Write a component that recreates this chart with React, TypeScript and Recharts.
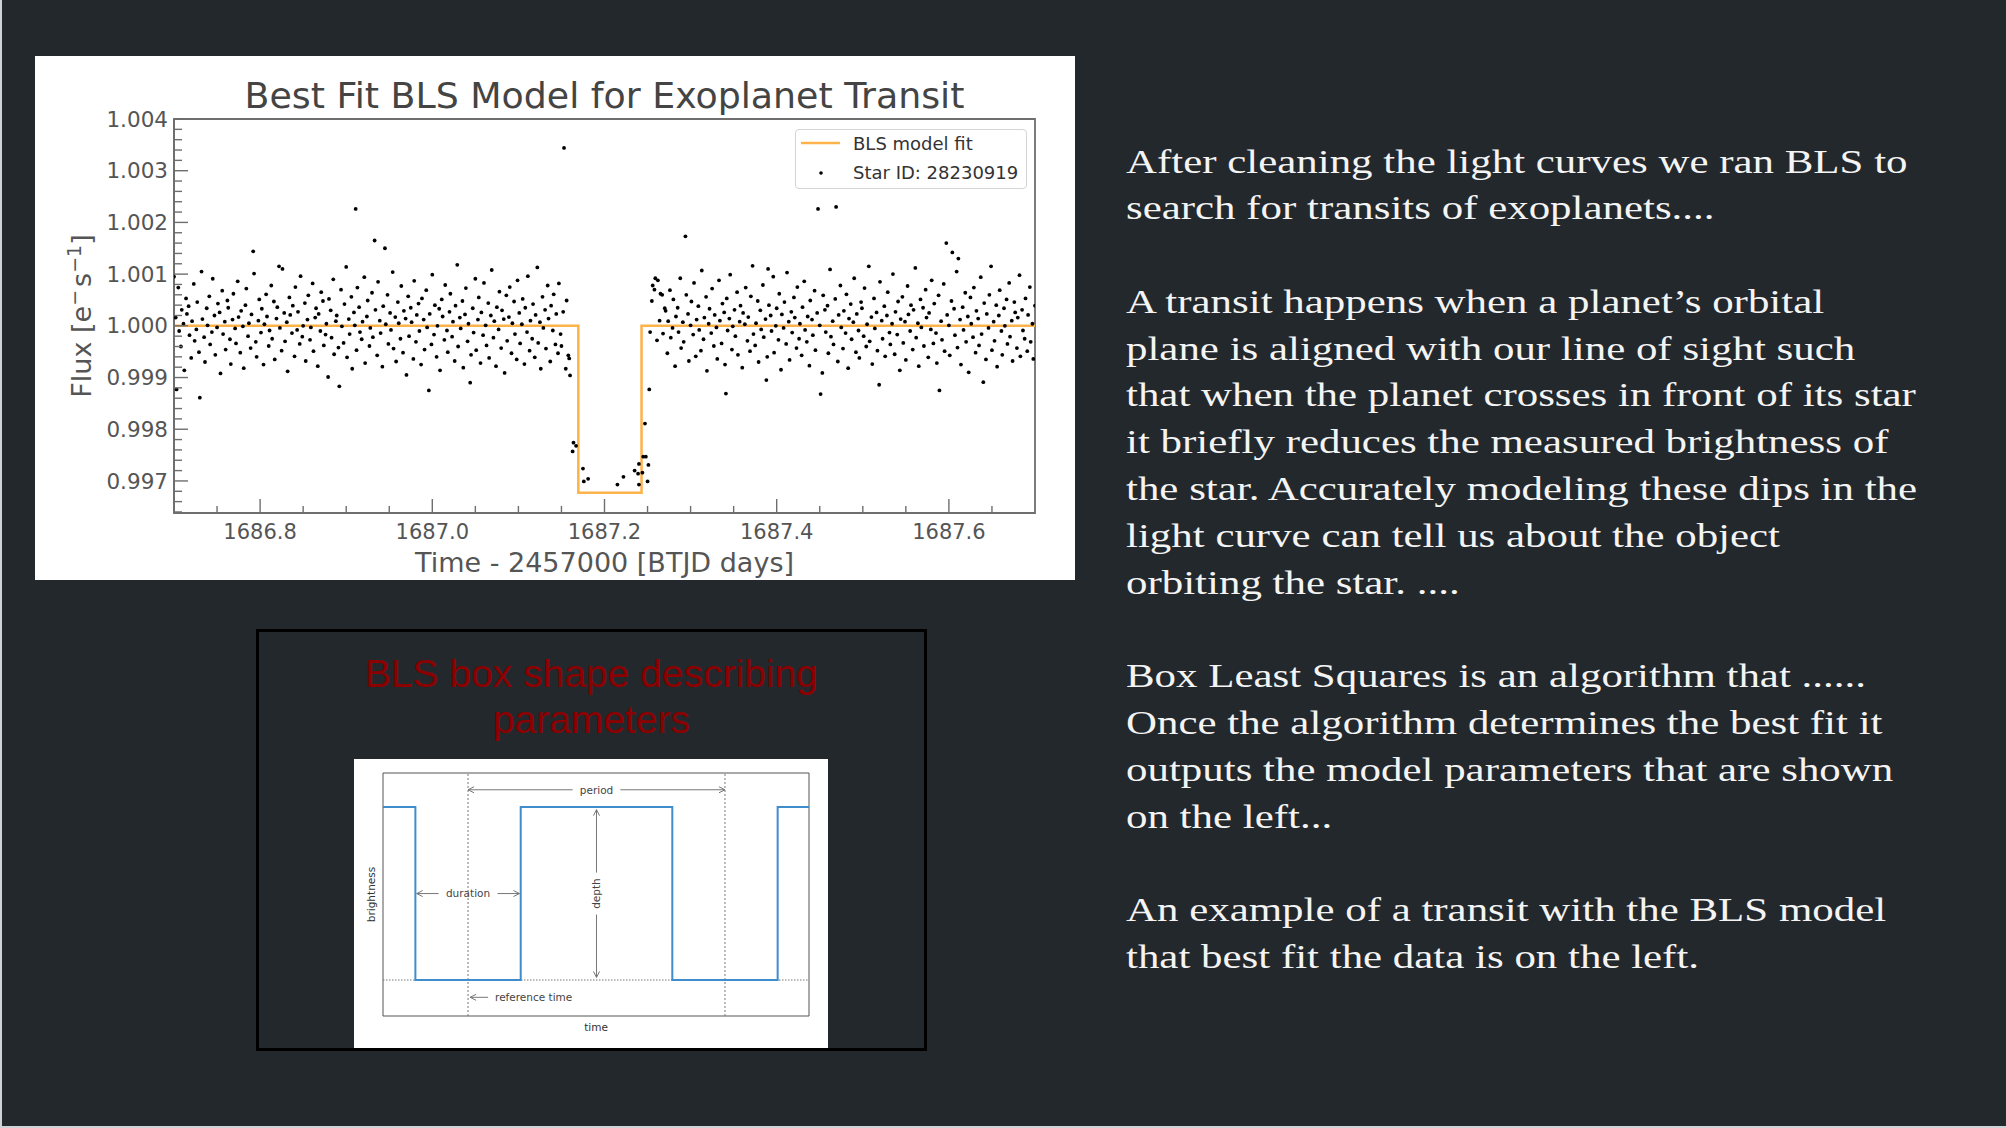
import React from "react"
import {
    ComposedChart,
    LineChart,
    Line,
    Scatter,
    XAxis,
    YAxis,
    ReferenceArea,
    ReferenceLine,
    Legend,
    Label,
} from "recharts"

// light curve, t = thousandths of a day after 1686.7, f = flux offset from 1 in units of 1e-5
const T0 = 1686.7

const PRE_TRANSIT = [
    [0, 95], [2, 16], [3, -123], [5, 74], [6, -10], [8, -40], [9, 31], [11, 4], [12, -86], [14, 53], [15, 23], [17, 38], [18, -18], [20, -62],
    [21, 9], [23, 81], [24, -29], [26, -7], [27, 46], [29, -51], [30, -139], [32, 105], [33, 13], [35, -22], [36, -70], [38, 34], [39, 1],
    [41, 57], [42, -36], [44, -12], [45, 91], [47, 20], [48, -56], [50, -3], [51, 43], [53, 26], [54, -92], [56, 68], [57, -16], [59, 8],
    [60, -46], [62, 49], [63, 35], [65, -26], [66, -74], [68, 12], [69, 62], [71, -5], [72, -34], [74, 86], [75, 17], [77, -52], [78, 29],
    [80, -1], [81, -82], [83, 40], [84, 72], [86, -20], [87, 5], [89, -43], [90, 22], [92, 144], [93, 101], [95, -31], [96, -60], [98, 10],
    [99, 51], [101, -13], [102, 33], [104, -75], [105, 3], [107, 61], [108, 18], [110, -39], [111, -9], [113, 78], [114, -25], [116, 47],
    [117, -65], [119, 14], [120, 36], [122, 115], [123, -4], [125, -48], [126, 110], [128, 25], [129, -30], [131, 7], [132, -88], [134, 55],
    [135, 21], [137, -14], [138, 39], [140, -59], [141, 75], [143, -8], [144, 27], [146, -35], [147, 96], [149, -21], [150, 0], [152, 44],
    [153, -68], [155, 12], [156, 59], [158, -27], [159, -3], [161, 82], [162, -49], [164, 16], [165, 34], [167, -78], [168, 23], [170, -10],
    [171, 65], [173, 48], [174, -38], [176, -17], [177, 4], [179, -99], [180, 52], [182, 30], [183, -23], [185, 90], [186, -55], [188, 9],
    [189, 20], [191, -42], [192, -117], [194, 70], [195, -1], [197, -33], [198, 42], [200, 114], [201, -61], [203, 13], [204, -16], [206, 56],
    [207, -83], [209, 26], [210, 1], [211, 226], [212, -47], [213, 74], [215, 36], [216, -12], [218, -26], [219, 8], [221, 94], [222, -72],
    [224, 18], [225, 49], [227, -39], [228, -4], [230, 64], [231, -22], [233, 165], [234, 31], [236, -57], [237, 85], [239, 10], [240, -14],
    [242, -79], [243, 38], [245, 150], [246, 3], [248, 60], [249, -35], [251, 25], [252, -8], [254, 104], [255, -44], [257, 17], [258, -69],
    [260, 46], [261, 5], [263, -25], [264, 77], [266, -52], [267, 29], [269, 14], [270, -95], [272, 57], [273, -20], [275, 35], [276, 7],
    [278, -64], [279, 87], [281, -31], [282, 21], [284, 43], [285, -10], [287, -75], [288, 53], [290, 12], [291, -46], [293, 69], [294, -3],
    [296, -125], [297, 23], [299, -36], [300, 99], [302, -17], [303, 40], [305, -60], [306, 0], [308, 33], [309, -86], [311, 51], [312, 18],
    [314, -27], [315, 79], [317, -9], [318, -51], [320, 27], [321, 62], [323, -21], [324, 8], [326, -68], [327, 39], [329, 118], [330, -40],
    [332, 16], [333, -5], [335, 48], [336, -81], [338, 22], [339, 73], [341, -30], [342, 4], [344, -110], [345, -56], [347, 34], [348, -13],
    [350, 91], [351, -47], [353, 12], [354, 55], [356, -72], [357, 26], [359, -18], [360, 83], [362, 1], [363, -38], [365, 44], [366, -62],
    [368, 20], [369, 108], [371, -23], [372, 9], [374, -78], [375, 36], [377, -7], [378, 66], [380, -43], [381, 30], [383, 13], [384, -91],
    [386, 59], [387, -29], [389, 17], [390, 75], [392, -53], [393, 5], [395, 47], [396, -16], [398, -65], [399, 88], [401, 25], [402, -34],
    [404, 3], [405, 52], [407, -74], [408, 35], [410, -12], [411, 96], [413, -48], [414, 10], [416, -25], [417, 42], [419, -61], [420, 21],
    [422, 113], [423, -33], [425, 7], [426, -83], [428, 56], [429, -4], [431, 31], [432, -44], [434, 78], [435, 14], [437, -69], [438, 39],
    [440, -9], [441, 61], [443, -36], [444, 23], [446, -53], [447, 82], [449, -16], [450, -39], [452, 27], [453, 344], [455, -83], [456, 49],
    [458, -57], [459, -63], [460, -96],
]

const IN_TRANSIT = [
    [463, -243], [464, -226], [467, -232], [475, -276], [476, -301], [481, -296], [515, -307], [522, -292], [535, -280], [539, -286],
    [540, -267], [540, -307], [544, -284], [545, -253], [547, -189], [548, -253], [550, -301], [551, -269], [552, -123],
]

const POST_TRANSIT = [
    [553, -12], [555, 48], [556, 78], [558, 70], [559, 92], [561, -28], [562, 88], [564, 10], [565, 62], [567, 60], [568, -15], [570, 34],
    [571, 29], [573, -53], [574, 9], [576, 69], [577, -23], [579, -4], [580, 51], [582, -78], [583, 18], [585, 35], [586, -12], [588, 92],
    [589, -43], [591, 7], [592, -31], [594, 173], [595, 60], [597, 23], [598, -68], [600, 1], [601, 47], [603, -17], [604, 83], [606, -59],
    [607, 12], [609, 38], [610, -8], [612, -48], [613, 107], [615, -26], [616, 16], [618, 56], [619, -87], [621, 4], [622, 33], [624, -14],
    [625, 72], [627, -39], [628, 21], [630, -3], [631, -64], [633, 88], [634, 10], [636, -34], [637, 43], [639, 26], [640, -75], [641, -131],
    [642, 53], [643, -9], [645, 14], [646, 99], [648, -46], [649, -1], [651, 31], [652, -20], [654, 65], [655, -56], [657, 8], [658, 39],
    [660, -81], [661, 25], [663, 3], [664, 74], [666, -29], [667, 17], [669, -49], [670, 57], [672, 116], [673, -16], [675, -38], [676, 5],
    [678, 48], [679, -70], [681, 30], [682, -7], [684, 79], [685, -22], [687, 13], [688, -105], [689, -60], [690, 110], [691, 40], [693, 20],
    [694, -10], [696, 95], [697, -52], [699, 0], [700, 34], [702, -27], [703, 62], [705, -85], [706, 22], [708, -4], [709, 46], [711, -35],
    [712, 103], [714, 8], [715, -66], [717, 27], [718, -13], [720, 55], [721, 16], [723, -43], [724, 75], [726, -25], [727, 4], [729, -57],
    [730, 36], [732, 86], [733, -8], [735, -31], [736, 18], [738, -77], [739, 49], [741, 12], [742, -18], [744, 68], [745, -47], [747, 25],
    [748, 226], [750, 1], [751, -132], [753, -91], [754, 59], [756, 31], [757, -12], [759, 39], [760, -53], [762, 109], [763, -21], [765, 9],
    [766, -36], [768, 52], [769, 230], [771, -69], [772, 21], [774, 78], [775, -3], [777, -44], [778, 29], [780, -14], [781, 61], [783, -82],
    [784, 14], [786, 42], [787, -26], [789, 7], [790, 92], [792, -51], [793, 23], [795, -9], [796, -62], [798, 46], [799, 34], [801, -20],
    [802, 73], [804, -40], [805, 3], [807, 115], [808, -30], [810, 17], [811, -74], [813, 53], [814, -5], [816, 26], [817, -48], [819, -114],
    [820, 85], [822, 10], [823, -25], [825, 38], [826, -59], [828, 20], [829, 65], [831, -13], [832, -36], [834, 4], [835, 100], [837, -55],
    [838, 27], [840, -17], [841, 47], [843, -86], [844, 13], [846, 56], [847, -33], [849, 8], [850, -66], [852, 77], [853, 22], [855, -10],
    [856, 40], [858, -46], [859, 31], [861, 112], [862, -23], [864, 5], [865, -78], [867, 51], [868, -3], [870, 35], [871, -39], [873, 70],
    [874, 16], [876, -61], [877, 25], [879, -7], [880, 88], [882, -34], [883, 43], [885, -14], [886, -72], [888, 59], [889, -125], [891, 9],
    [892, -27], [894, 81], [895, -49], [897, 160], [898, 21], [900, 1], [901, -57], [903, 48], [904, 142], [906, 33], [907, -18], [909, 105],
    [910, -42], [911, 130], [913, 12], [914, -75], [916, 36], [917, -8], [919, 64], [920, -31], [922, 18], [923, -90], [925, 55], [926, 4],
    [928, -22], [929, 74], [931, -52], [932, 29], [934, 14], [935, -38], [937, 94], [938, -16], [940, -109], [941, 44], [943, -65], [944, 23],
    [946, -4], [947, 60], [949, 115], [950, -47], [952, 8], [953, -29], [955, 40], [956, -79], [958, 20], [959, 69], [961, -10], [962, -56],
    [964, 34], [965, 0], [967, 51], [968, -35], [970, 83], [971, -21], [973, 10], [974, -68], [976, 46], [977, 26], [979, -43], [980, 16],
    [982, 98], [983, -59], [985, 31], [986, -9], [988, -25], [989, 53], [991, -49], [992, 21], [994, 75], [995, -31], [997, 4], [998, -64],
    [1000, 39],
]

// BLS box model
const MODEL_TIME = [1686.7, 1687.1696, 1687.1696, 1687.243, 1687.243, 1687.7]
const MODEL_FLUX = [1.0, 1.0, 0.99677, 0.99677, 1.0, 1.0]

const X_MAJOR = [1686.8, 1687.0, 1687.2, 1687.4, 1687.6]
const Y_MAJOR = [0.997, 0.998, 0.999, 1.0, 1.001, 1.002, 1.003, 1.004]
const LEGEND_LABELS = ["BLS model fit", "Star ID: 28230919"]

// parameter diagram (time in periods, brightness normalised)
const BOX_TIME = [-0.331, -0.205, -0.205, 0.205, 0.205, 0.795, 0.795, 1.205, 1.205, 1.327]
const BOX_LEVEL = [1, 1, 0, 0, 1, 1, 0, 0, 1, 1]

const TEXT_PARAGRAPHS = [
    ["After cleaning the light curves we ran BLS to", "search for transits of exoplanets...."],
    [
        "A transit happens when a planet\u2019s orbital",
        "plane is aligned with our line of sight such",
        "that when the planet crosses in front of its star",
        "it briefly reduces the measured brightness of",
        "the star. Accurately modeling these dips in the",
        "light curve can tell us about the object",
        "orbiting the star. ....",
    ],
    [
        "Box Least Squares is an algorithm that ......",
        "Once the algorithm determines the best fit it",
        "outputs the model parameters that are shown",
        "on the left...",
    ],
    ["An example of a transit with the BLS model", "that best fit the data is on the left."],
]

const BG = "#23282d"
const ORANGE = "#fdb24a"
const SPINE = "#6e6e6e"
const TICK_TEXT = "#555"
const MPL_FONT = "DejaVu Sans"

const X_DOMAIN: [number, number] = [1686.7, 1687.7]
const Y_DOMAIN: [number, number] = [0.99638, 1.004]

// panel layout
const PANEL_W = 1040
const PANEL_H = 524
const PLOT_LEFT = 139
const PLOT_BOTTOM = 457

const toPoint = ([dt, df]: number[]) => ({ t: T0 + dt / 1000, flux: 1 + df / 1e5 })
const fluxPoints = [...PRE_TRANSIT, ...IN_TRANSIT, ...POST_TRANSIT].map(toPoint)
const modelData = MODEL_TIME.map((t, i) => ({ t, flux: MODEL_FLUX[i] }))
const boxData = BOX_TIME.map((t, i) => ({ t, b: BOX_LEVEL[i] }))

// minor ticks: every 0.05 d and every 0.0002
const xTicks: number[] = []
for (let k = 1; k < 20; k++) xTicks.push(Math.round((1686.7 + k * 0.05) * 100) / 100)
const yTicks: number[] = []
for (let k = 0; k <= 38; k++) yTicks.push(Math.round((0.9964 + k * 0.0002) * 1e5) / 1e5)

const isMajor = (v: number, list: number[]) => list.some((m) => Math.abs(m - v) < 1e-7)

function XTick(props: any) {
    const { x, payload } = props
    const major = isMajor(payload.value, X_MAJOR)
    return (
        <g>
            <line x1={x} x2={x} y1={PLOT_BOTTOM} y2={PLOT_BOTTOM - (major ? 14 : 7)} stroke={SPINE} strokeWidth={1.4} />
            {major && (
                <text x={x} y={PLOT_BOTTOM + 26} textAnchor="middle" fontSize={21} fontFamily={MPL_FONT} fill={TICK_TEXT}>
                    {payload.value.toFixed(1)}
                </text>
            )}
        </g>
    )
}

function YTick(props: any) {
    const { y, payload } = props
    const major = isMajor(payload.value, Y_MAJOR)
    return (
        <g>
            <line x1={PLOT_LEFT} x2={PLOT_LEFT + (major ? 14 : 8)} y1={y} y2={y} stroke={SPINE} strokeWidth={1.4} />
            {major && (
                <text x={PLOT_LEFT - 6} y={y + 7.6} textAnchor="end" fontSize={21.5} fontFamily={MPL_FONT} fill={TICK_TEXT}>
                    {payload.value.toFixed(3)}
                </text>
            )}
        </g>
    )
}

const renderLegend = () => (
    <div
        style={{
            width: 232,
            height: 60,
            boxSizing: "border-box",
            border: "1.5px solid #d4d4d4",
            borderRadius: 4,
            background: "#fff",
            position: "relative",
        }}
    >
        <svg width={232} height={60} style={{ position: "absolute", left: -1.5, top: -1.5 }}>
            <line x1={6} x2={45} y1={14} y2={14} stroke={ORANGE} strokeWidth={2.5} />
            <circle cx={26} cy={44} r={1.8} fill="#000" />
            <text x={58} y={21} fontSize={18} fontFamily={MPL_FONT} fill="#333">
                {LEGEND_LABELS[0]}
            </text>
            <text x={58} y={50} fontSize={18} fontFamily={MPL_FONT} fill="#333">
                {LEGEND_LABELS[1]}
            </text>
        </svg>
    </div>
)

function TransitChart() {
    return (
        <ComposedChart width={PANEL_W} height={PANEL_H} margin={{ top: 63, right: 40, bottom: 0, left: 0 }}>
            <XAxis
                dataKey="t"
                type="number"
                domain={X_DOMAIN}
                allowDataOverflow
                ticks={xTicks}
                interval={0}
                tick={XTick}
                tickLine={false}
                axisLine={{ stroke: SPINE, strokeWidth: 1.8 }}
                height={67}
                label={
                    <Label
                        content={({ viewBox }: any) => (
                            <text
                                x={viewBox.x + viewBox.width / 2}
                                y={viewBox.y + 59}
                                textAnchor="middle"
                                fontSize={27}
                                fontFamily={MPL_FONT}
                                fill="#555"
                            >
                                Time - 2457000 [BTJD days]
                            </text>
                        )}
                    />
                }
            />
            <YAxis
                dataKey="flux"
                type="number"
                domain={Y_DOMAIN}
                allowDataOverflow
                ticks={yTicks}
                interval={0}
                tick={YTick}
                tickLine={false}
                axisLine={{ stroke: SPINE, strokeWidth: 1.8 }}
                width={PLOT_LEFT}
                label={
                    <Label
                        content={({ viewBox }: any) => {
                            const cx = 56
                            const cy = viewBox.y + viewBox.height / 2
                            return (
                                <text
                                    x={cx}
                                    y={cy}
                                    transform={`rotate(-90, ${cx}, ${cy})`}
                                    textAnchor="middle"
                                    fontSize={27}
                                    fontFamily={MPL_FONT}
                                    fill="#555"
                                >
                                    Flux [e
                                    <tspan dy={-10} fontSize={19}>
                                        {"\u2212"}
                                    </tspan>
                                    <tspan dy={10} dx={3}>
                                        s
                                    </tspan>
                                    <tspan dy={-10} fontSize={19}>
                                        {"\u22121"}
                                    </tspan>
                                    <tspan dy={10}>]</tspan>
                                </text>
                            )
                        }}
                    />
                }
            />
            <ReferenceArea
                x1={X_DOMAIN[0]}
                x2={X_DOMAIN[1]}
                y1={Y_DOMAIN[0]}
                y2={Y_DOMAIN[1]}
                fill="none"
                stroke={SPINE}
                strokeWidth={1.8}
                ifOverflow="visible"
            />
            <Line
                data={modelData}
                dataKey="flux"
                name={LEGEND_LABELS[0]}
                type="linear"
                stroke={ORANGE}
                strokeWidth={2.5}
                dot={false}
                isAnimationActive={false}
            />
            <Scatter
                data={fluxPoints}
                name={LEGEND_LABELS[1]}
                fill="#000"
                isAnimationActive={false}
                shape={(p: any) => <circle cx={p.cx} cy={p.cy} r={1.9} fill="#000" />}
            />
            <Legend
                layout="vertical"
                align="center"
                verticalAlign="middle"
                content={renderLegend}
                wrapperStyle={{ left: 760, top: 73, width: 232, height: 60 }}
            />
        </ComposedChart>
    )
}

// annotation arrow drawn over a ReferenceLine segment
const head = (x: number, y: number, ux: number, uy: number) => {
    const bx = x - ux * 6
    const by = y - uy * 6
    const px = -uy * 3
    const py = ux * 3
    return `M${bx + px},${by + py} L${x},${y} L${bx - px},${by - py}`
}

function annotation(text: string, mode: "middle" | "after") {
    return (p: any) => {
        const { x1, y1, x2, y2 } = p
        const len = Math.hypot(x2 - x1, y2 - y1) || 1
        const ux = (x2 - x1) / len
        const uy = (y2 - y1) / len
        const vertical = Math.abs(uy) > Math.abs(ux)
        const tw = text.length * 5.6
        const style = { fontSize: 10.5, fontFamily: MPL_FONT, fill: "#444" }
        if (mode === "after") {
            return (
                <g>
                    <path d={`M${x1},${y1} L${x2},${y2}`} stroke="#777" strokeWidth={1} fill="none" />
                    <path d={head(x1, y1, -ux, -uy)} stroke="#777" strokeWidth={1} fill="none" />
                    <text x={x2 + 7} y={y2 + 3.8} {...style}>
                        {text}
                    </text>
                </g>
            )
        }
        const mx = (x1 + x2) / 2
        const my = (y1 + y2) / 2
        const g = tw / 2 + 7
        return (
            <g>
                <path
                    d={`M${x1},${y1} L${mx - ux * g},${my - uy * g} M${mx + ux * g},${my + uy * g} L${x2},${y2}`}
                    stroke="#777"
                    strokeWidth={1}
                    fill="none"
                />
                <path d={head(x1, y1, -ux, -uy)} stroke="#777" strokeWidth={1} fill="none" />
                <path d={head(x2, y2, ux, uy)} stroke="#777" strokeWidth={1} fill="none" />
                <text
                    x={mx}
                    y={my + 3.8}
                    textAnchor="middle"
                    transform={vertical ? `rotate(-90, ${mx}, ${my})` : undefined}
                    {...style}
                >
                    {text}
                </text>
            </g>
        )
    }
}

function BoxDiagram() {
    return (
        <LineChart width={474} height={289} data={boxData} margin={{ top: 14, right: 19, bottom: 0, left: 0 }}>
            <XAxis
                dataKey="t"
                type="number"
                domain={[-0.331, 1.327]}
                allowDataOverflow
                tick={false}
                tickLine={false}
                axisLine={false}
                height={32}
                label={
                    <Label
                        content={({ viewBox }: any) => (
                            <text
                                x={viewBox.x + viewBox.width / 2}
                                y={viewBox.y + 15}
                                textAnchor="middle"
                                fontSize={10.5}
                                fontFamily={MPL_FONT}
                                fill="#333"
                            >
                                time
                            </text>
                        )}
                    />
                }
            />
            <YAxis
                type="number"
                domain={[-0.208, 1.197]}
                allowDataOverflow
                tick={false}
                tickLine={false}
                axisLine={false}
                width={29}
                label={
                    <Label
                        content={({ viewBox }: any) => {
                            const cx = 21
                            const cy = viewBox.y + viewBox.height / 2
                            return (
                                <text
                                    x={cx}
                                    y={cy}
                                    transform={`rotate(-90, ${cx}, ${cy})`}
                                    textAnchor="middle"
                                    fontSize={10.5}
                                    fontFamily={MPL_FONT}
                                    fill="#333"
                                >
                                    brightness
                                </text>
                            )
                        }}
                    />
                }
            />
            <ReferenceArea x1={-0.331} x2={1.327} y1={-0.208} y2={1.197} fill="none" stroke="#555" strokeWidth={1} ifOverflow="visible" />
            <ReferenceLine x={0} stroke="#777" strokeDasharray="2 2" strokeWidth={1} />
            <ReferenceLine x={1} stroke="#777" strokeDasharray="2 2" strokeWidth={1} />
            <ReferenceLine y={0} stroke="#777" strokeDasharray="1.5 1.5" strokeWidth={1} />
            <ReferenceLine segment={[{ x: 0, y: 1.1 }, { x: 1, y: 1.1 }]} ifOverflow="visible" shape={annotation("period", "middle")} />
            <ReferenceLine segment={[{ x: -0.2, y: 0.5 }, { x: 0.2, y: 0.5 }]} ifOverflow="visible" shape={annotation("duration", "middle")} />
            <ReferenceLine segment={[{ x: 0.5, y: 0.985 }, { x: 0.5, y: 0.015 }]} ifOverflow="visible" shape={annotation("depth", "middle")} />
            <ReferenceLine segment={[{ x: 0.008, y: -0.1 }, { x: 0.078, y: -0.1 }]} ifOverflow="visible" shape={annotation("reference time", "after")} />
            <Line dataKey="b" type="linear" stroke="#3f8dcc" strokeWidth={2} dot={false} isAnimationActive={false} />
        </LineChart>
    )
}

export default function App() {
    return (
        <div
            style={{
                position: "absolute",
                left: 0,
                top: 0,
                width: 2006,
                height: 1128,
                background: BG,
                overflow: "hidden",
            }}
        >
            <div style={{ position: "absolute", left: 0, top: 0, width: 2, height: 1128, background: "#cfd3d6" }} />
            <div style={{ position: "absolute", left: 0, top: 1126, width: 2006, height: 2, background: "#cfd3d6" }} />

            {/* light curve panel */}
            <div style={{ position: "absolute", left: 35, top: 56, width: PANEL_W, height: PANEL_H, background: "#fff" }}>
                <div style={{ position: "absolute", left: 0, top: 0 }}>
                    <TransitChart />
                </div>
                <div
                    style={{
                        position: "absolute",
                        left: PLOT_LEFT,
                        top: 21.5,
                        width: 861,
                        textAlign: "center",
                        fontFamily: MPL_FONT,
                        fontSize: 36.3,
                        lineHeight: "36px",
                        color: "#444",
                        whiteSpace: "nowrap",
                    }}
                >
                    Best Fit BLS Model for Exoplanet Transit
                </div>
            </div>

            {/* parameter figure */}
            <div
                style={{
                    position: "absolute",
                    left: 256,
                    top: 629,
                    width: 671,
                    height: 422,
                    boxSizing: "border-box",
                    border: "3px solid #000",
                }}
            />
            <div
                style={{
                    position: "absolute",
                    left: 256,
                    top: 650.5,
                    width: 671,
                    textAlign: "center",
                    fontFamily: "'Liberation Sans', Arial, sans-serif",
                    fontSize: 39,
                    lineHeight: "46px",
                    color: "#8b0000",
                }}
            >
                BLS box shape describing
                <br />
                parameters
            </div>
            <div style={{ position: "absolute", left: 354, top: 759, width: 474, height: 289, background: "#fff" }}>
                <BoxDiagram />
            </div>

            {/* slide text */}
            <div
                style={{
                    position: "absolute",
                    left: 1126,
                    top: 138.5,
                    fontFamily: "'Liberation Serif', serif",
                    fontSize: 33,
                    lineHeight: "46.8px",
                    color: "#f4f4f4",
                    whiteSpace: "nowrap",
                    transform: "scaleX(1.30)",
                    transformOrigin: "0 0",
                }}
            >
                {TEXT_PARAGRAPHS.map((lines, i) => (
                    <div key={i} style={{ marginBottom: i < TEXT_PARAGRAPHS.length - 1 ? 46.8 : 0 }}>
                        {lines.map((line, j) => (
                            <div key={j} style={{ height: 46.8 }}>
                                {line}
                            </div>
                        ))}
                    </div>
                ))}
            </div>
        </div>
    )
}
